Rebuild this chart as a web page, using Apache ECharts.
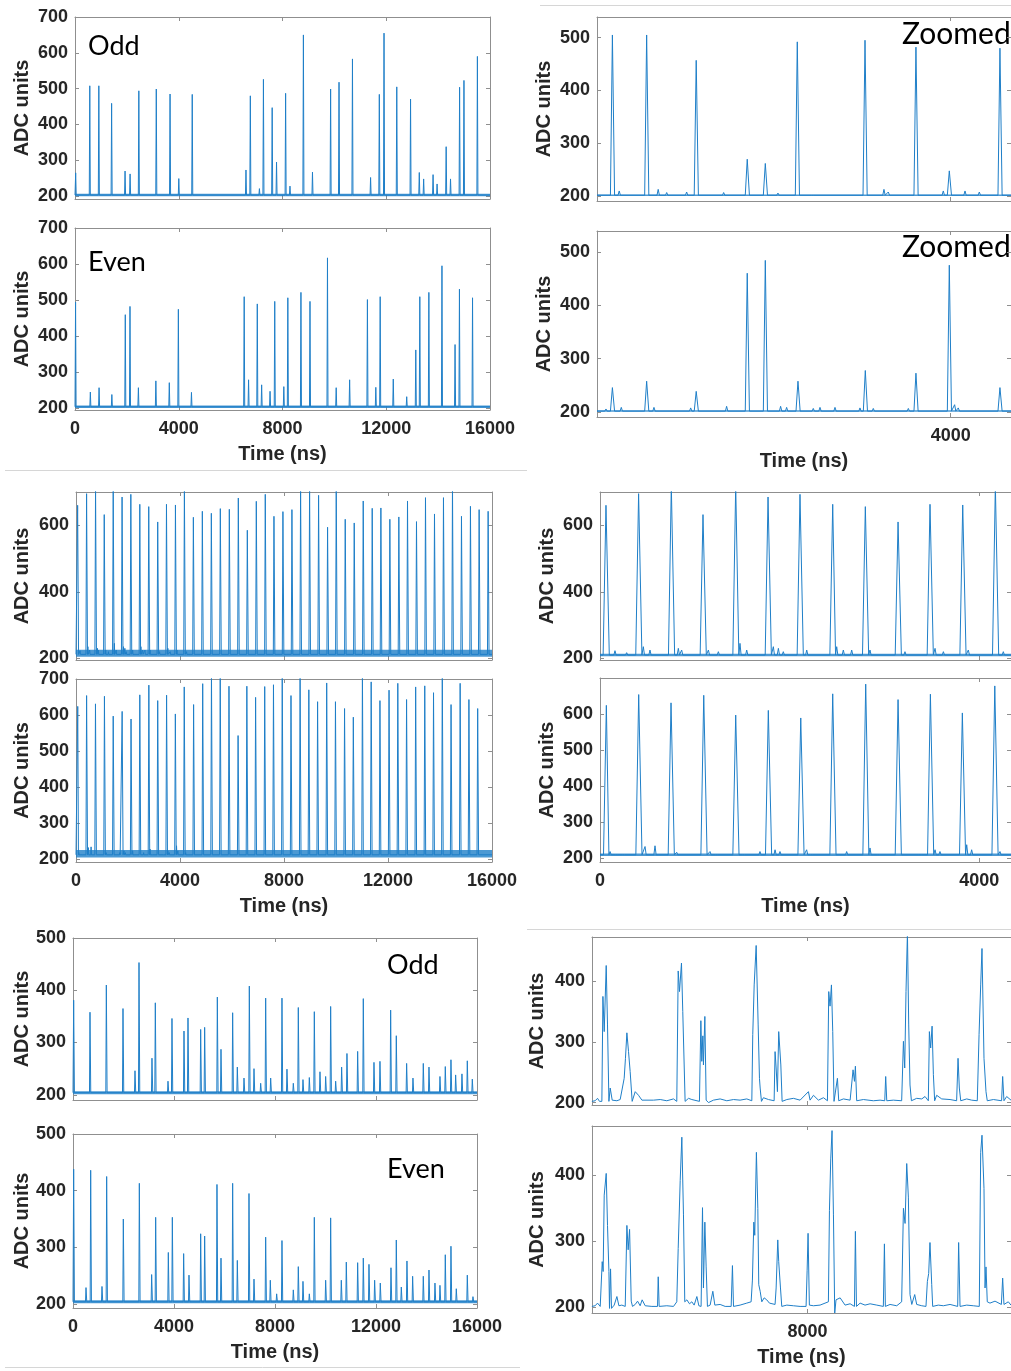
<!DOCTYPE html>
<html>
<head>
<meta charset="utf-8">
<script src="https://cdn.jsdelivr.net/npm/echarts@6/dist/echarts.min.js"></script>
<style>
html, body { margin: 0; padding: 0; background: #fff; }
#main { width: 1011px; height: 1371px; }
</style>
</head>
<body>
<div id="main"></div>
<script>
// ---------- data (time in ns, value in ADC units) ----------
// top block, full 16 us record: spike times and peak heights
var topOddT = [26,570,919,1412,1930,2124,2461,3134,3665,4002,4520,6592,6760,7110,7265,7602,7770,8120,8288,8806,9156,9855,10179,10697,11396,11733,11914,12406,12937,13274,13442,13805,13960,14310,14478,14828,14996,15514];
var topOddV = [265,508,508,459,270,262,494,499,485,249,484,273,480,221,526,447,295,487,228,650,267,499,518,583,252,484,655,505,471,266,248,260,234,338,248,504,523,590];
var topEvenT = [22,592,928,1421,1939,2120,2444,3118,3636,3985,4490,6523,6692,7028,7196,7520,7701,8051,8206,8711,9060,9734,10070,10588,11274,11598,11766,12271,12789,13139,13294,13643,14148,14653,14822,15327];
var topEvenV = [494,244,256,237,459,482,256,275,270,474,243,509,278,489,264,246,496,259,506,521,496,617,256,278,501,257,509,280,231,361,509,521,595,376,530,506];

// top block, zoomed
var tzOddT = [573,920,1422,1939,2122,2446,3132,3648,3986,4499];
var tzOddV = [505,505,457,270,262,492,495,482,248,480];
var tzOddBumpT = [642,1037,1123,1325,1700,2250,2600,3324,3368,3925,4145,4290];
var tzOddBumpV = [210,213,207,208,207,206,205,213,208,210,210,208];
var tzEvenT = [573,920,1422,1939,2122,2453,3135,3648,3986,4499];
var tzEvenV = [246,258,239,460,484,258,278,273,475,246];
var tzEvenBumpT = [508,663,994,1366,1730,2277,2338,2608,2676,2828,3081,3216,3571,4040,4077];
var tzEvenBumpV = [206,209,209,208,211,211,209,207,209,209,208,207,207,214,208];

// middle block (periodic pulses)
var midOddT = [63,407,752,1086,1431,1772,2109,2454,2798,3143,3480,3825,4169,4514,4859,5205,5551,5897,6243,6589,6935,7280,7614,7959,8305,8638,8984,9330,9676,10009,10355,10701,11047,11393,11726,12071,12417,12750,13096,13442,13788,14134,14480,14826,15171,15505,15851];
var midOddV = [660,695,720,632,720,685,693,663,656,610,663,661,720,624,642,636,650,648,682,585,672,693,627,641,647,720,720,690,594,720,618,607,673,651,652,618,625,673,611,683,634,683,720,627,657,647,642];
var midOddBumpT = [158,281,457,527,826,861,1143,1248,1476,1547,1828,1881,1933,2180,2496,2566,2654,2847,3216,3533,3621,3884,4253];
var midOddBumpV = [223,217,235,225,230,225,225,220,245,225,235,230,220,225,235,225,225,225,220,230,220,225,220];
var midEvenT = [67,408,749,1094,1431,1775,2117,2454,2802,3143,3484,3821,4163,4523,4873,5210,5547,5884,6234,6571,6908,7258,7595,7932,8269,8619,8955,9292,9642,9979,10329,10666,11016,11353,11690,12040,12377,12714,13064,13414,13751,14088,14425,14775,15112,15449];
var midEvenV = [624,654,631,652,597,610,589,656,683,640,655,603,678,629,687,720,720,680,543,680,649,679,684,720,654,720,670,637,689,637,618,594,720,692,640,669,688,643,678,681,662,720,629,688,643,618];
var midEvenBumpT = [106,176,246,475,580,809,1160,1230,1512,1687,1846,1898,2179,2232,2601,2847,2935,3375,3533,3585,3867,3919,4218];
var midEvenBumpV = [218,214,212,232,234,216,218,214,214,218,223,218,223,214,218,228,214,214,223,218,237,223,218];

// bottom block, full record
var botOddT = [26,673,1320,1980,2455,2614,3128,3260,3762,3920,4396,4554,5056,5214,5716,5861,6323,6508,6772,6983,7168,7432,7630,7828,8276,8474,8725,8923,9108,9359,9557,9781,10006,10204,10402,10639,10850,11273,11497,11920,12157,12580,12804,13213,13464,13873,14098,14533,14744,14969,15154,15404,15616,15814];
var botOddV = [381,358,410,365,246,453,270,376,226,346,322,347,325,329,387,287,357,253,232,408,250,222,385,232,385,249,222,367,229,233,359,244,235,369,226,253,279,283,384,262,264,362,313,260,232,260,253,235,254,267,238,240,265,230];
var botEvenT = [26,515,700,1148,1333,1993,2627,3115,3274,3775,3934,4382,4594,5056,5214,5702,5861,6323,6508,6970,7168,7630,7814,8065,8276,8725,8923,9108,9359,9557,10006,10204,10626,10824,11273,11497,11722,11946,12170,12593,12804,13002,13226,13451,13873,14098,14335,14533,14744,14969,15180,15616,15840];
var botEvenV = [438,229,436,231,425,350,413,252,353,291,353,289,251,324,320,411,281,413,277,395,244,318,242,218,312,225,266,240,218,353,242,352,242,274,273,281,270,242,237,264,313,230,276,249,249,260,237,233,287,302,227,251,213];

// bottom block, zoomed traces [time, value]
var bzOdd = [[6164,202],[6192,203],[6212,207],[6229,202],[6249,202],[6258,375],[6269,317],[6286,426],[6297,328],[6309,202],[6320,224],[6337,204],[6377,203],[6405,205],[6439,240],[6450,273],[6462,315],[6476,284],[6490,251],[6507,202],[6533,218],[6561,212],[6590,204],[6689,204],[6746,205],[6802,203],[6859,206],[6887,202],[6899,417],[6910,383],[6927,430],[6938,350],[6958,202],[6987,207],[7015,205],[7080,202],[7092,335],[7100,268],[7109,310],[7114,262],[7126,342],[7137,204],[7157,200],[7199,204],[7256,206],[7313,203],[7370,205],[7426,204],[7483,206],[7526,203],[7534,312],[7546,394],[7563,459],[7580,328],[7591,240],[7597,224],[7608,202],[7625,208],[7668,205],[7716,203],[7724,284],[7733,257],[7744,218],[7755,317],[7761,315],[7773,262],[7784,202],[7824,205],[7880,207],[7937,204],[8008,218],[8022,204],[8051,212],[8093,204],[8136,208],[8170,203],[8181,383],[8192,359],[8204,394],[8215,317],[8226,202],[8255,240],[8266,203],[8306,206],[8363,204],[8380,203],[8388,254],[8400,235],[8408,260],[8419,203],[8476,205],[8561,203],[8618,204],[8658,203],[8666,243],[8675,203],[8731,204],[8802,203],[8817,301],[8828,257],[8839,383],[8851,480],[8862,328],[8873,229],[8885,203],[8930,207],[8973,206],[9001,210],[9029,203],[9038,317],[9049,290],[9061,326],[9072,246],[9083,203],[9100,212],[9143,206],[9214,205],[9270,203],[9282,273],[9293,224],[9305,203],[9356,206],[9398,204],[9446,203],[9461,312],[9475,394],[9486,454],[9503,273],[9520,218],[9531,203],[9583,205],[9653,203],[9662,243],[9673,203],[9696,210],[9733,204]];
var bzEven = [[6164,201],[6192,202],[6212,206],[6235,201],[6243,201],[6252,269],[6260,254],[6269,370],[6286,403],[6297,324],[6309,254],[6314,198],[6323,258],[6331,198],[6354,203],[6377,216],[6394,202],[6419,203],[6448,201],[6462,324],[6473,287],[6485,318],[6499,209],[6510,201],[6533,204],[6553,209],[6575,202],[6592,211],[6618,202],[6675,201],[6723,201],[6729,246],[6737,201],[6802,202],[6859,201],[6887,208],[6899,289],[6916,392],[6930,458],[6944,340],[6955,208],[6973,211],[6995,205],[7015,208],[7035,203],[7058,216],[7075,202],[7094,201],[7106,351],[7114,229],[7126,329],[7137,261],[7148,201],[7171,203],[7194,224],[7211,203],[7256,204],[7299,201],[7350,201],[7361,263],[7370,201],[7426,203],[7483,206],[7520,208],[7531,241],[7543,329],[7551,309],[7565,435],[7577,350],[7585,234],[7597,224],[7611,208],[7631,214],[7653,211],[7676,206],[7724,204],[7733,229],[7747,302],[7755,269],[7770,229],[7781,201],[7824,203],[7880,202],[7937,201],[7988,201],[7997,256],[8005,312],[8016,203],[8051,202],[8107,203],[8178,208],[8187,347],[8198,425],[8209,468],[8221,340],[8232,191],[8243,211],[8278,214],[8320,203],[8363,205],[8400,201],[8408,315],[8417,201],[8448,206],[8490,203],[8533,205],[8590,203],[8646,201],[8655,296],[8663,201],[8703,204],[8760,202],[8802,208],[8817,350],[8831,327],[8845,418],[8859,367],[8873,219],[8888,204],[8913,219],[8930,204],[8973,202],[9009,201],[9021,239],[9032,251],[9043,298],[9058,234],[9066,201],[9114,203],[9157,202],[9214,204],[9279,201],[9287,298],[9299,201],[9356,203],[9412,202],[9463,201],[9475,435],[9486,461],[9503,380],[9512,229],[9520,261],[9531,208],[9554,206],[9597,209],[9651,204],[9662,244],[9673,204],[9710,208],[9733,203]];

// tick values
var fullTicks = [0, 4000, 8000, 12000, 16000];
var yTicks700 = [200, 300, 400, 500, 600, 700];

// ---------- helpers ----------
var blue = '#1f7fc8';
var boxColor = '#8f8f8f';
var txt = '#262626';
var numFont = 'Liberation Sans';

// join spikes + small bumps into one polyline sitting on a flat baseline
function spikeTrace(t, v, bt, bv, base, rise, fall, x0, x1) {
  var ev = [];
  t.forEach(function (x, i) { ev.push([x, v[i], rise, fall]); });
  (bt || []).forEach(function (x, i) { ev.push([x, bv[i], 12, 12]); });
  ev.sort(function (a, b) { return a[0] - b[0]; });
  var pts = [[x0, base]];
  ev.forEach(function (e) {
    pts.push([e[0] - e[2], base], [e[0], e[1]], [e[0] + e[3], base]);
  });
  pts.push([x1, base]);
  pts.sort(function (a, b) { return a[0] - b[0]; });
  return pts;
}

var panels = [
  { l: 75, t: 17, w: 415, h: 182, xr: [0, 16000], yr: [192, 700], xt: fullTicks, yt: yTicks700, xl: false, ng: 43,
    data: spikeTrace(topOddT, topOddV, null, null, 203, 20, 20, 0, 16000), band: 203, bw: 2.5 },
  { l: 75, t: 228, w: 415, h: 182, xr: [0, 16000], yr: [194, 700], xt: fullTicks, yt: yTicks700, xl: true, ng: 43,
    data: spikeTrace(topEvenT, topEvenV, null, null, 203, 20, 20, 0, 16000), band: 203, bw: 2.5 },
  { l: 597, t: 17, r: 0, h: 184, xr: [417, 4611], yr: [191, 539], xt: [4000], yt: [200, 300, 400, 500], xl: false, ng: 43,
    data: spikeTrace(tzOddT, tzOddV, tzOddBumpT, tzOddBumpV, 202, 20, 22, 417, 4611), band: 202, bw: 1.5 },
  { l: 597, t: 231, r: 0, h: 186, xr: [417, 4611], yr: [191, 539], xt: [4000], yt: [200, 300, 400, 500], xl: true, ng: 43,
    data: spikeTrace(tzEvenT, tzEvenV, tzEvenBumpT, tzEvenBumpV, 202, 20, 22, 417, 4611), band: 202, bw: 1.5 },
  { l: 76, t: 492, w: 416, h: 168, xr: [0, 16000], yr: [195, 700], xt: fullTicks, yt: [200, 400, 600], xl: false, ng: 44,
    data: spikeTrace(midOddT, midOddV, midOddBumpT, midOddBumpV, 212, 25, 35, 0, 16000), band: 215, bw: 7 },
  { l: 76, t: 679, w: 416, h: 183, xr: [0, 16000], yr: [192, 700], xt: fullTicks, yt: yTicks700, xl: true, ng: 44,
    data: spikeTrace(midEvenT, midEvenV, midEvenBumpT, midEvenBumpV, 212, 25, 35, 0, 16000), band: 215, bw: 7.5 },
  { l: 600, t: 492, r: 0, h: 168, xr: [0, 4334], yr: [195, 700], xt: [0, 4000], yt: [200, 400, 600], xl: false, ng: 43,
    data: spikeTrace(midOddT, midOddV, midOddBumpT, midOddBumpV, 210, 30, 35, 0, 16000), band: 210, bw: 2.5 },
  { l: 600, t: 678, r: 0, h: 184, xr: [0, 4334], yr: [189, 700], xt: [0, 4000], yt: [200, 300, 400, 500, 600], xl: true, ng: 43,
    data: spikeTrace(midEvenT, midEvenV, midEvenBumpT, midEvenBumpV, 209, 30, 35, 0, 16000), band: 209, bw: 2.5 },
  { l: 73, t: 938, w: 404, h: 162, xr: [0, 16000], yr: [190, 500], xt: fullTicks, yt: [200, 300, 400, 500], xl: false, ng: 40,
    data: spikeTrace(botOddT, botOddV, null, null, 204, 20, 30, 0, 16000), band: 204, bw: 3 },
  { l: 73, t: 1134, w: 404, h: 174, xr: [0, 16000], yr: [193, 500], xt: fullTicks, yt: [200, 300, 400, 500], xl: true, ng: 40,
    data: spikeTrace(botEvenT, botEvenV, null, null, 204, 20, 30, 0, 16000), band: 204, bw: 3 },
  { l: 592, t: 937, r: 0, h: 168, xr: [6165, 9733], yr: [196, 473], xt: [8000], yt: [200, 300, 400], xl: false, ng: 45,
    data: bzOdd, band: null },
  { l: 592, t: 1126, r: 0, h: 187, xr: [6165, 9733], yr: [191, 475], xt: [8000], yt: [200, 300, 400], xl: true, ng: 45,
    data: bzEven, band: null }
];

var numStyle = { fontFamily: numFont, fontWeight: 'bold', fontSize: 18, color: txt };
var nameStyle = { fontFamily: numFont, fontWeight: 'bold', fontSize: 20, color: txt };
var plain = function (v) { return String(v); };

var grids = [], xAxes = [], yAxes = [], series = [];
panels.forEach(function (p, i) {
  var g = { left: p.l, top: p.t, height: p.h };
  if (p.w != null) g.width = p.w; else g.right = p.r;
  grids.push(g);
  var tick = { show: true, inside: true, length: 4, lineStyle: { color: boxColor } };
  xAxes.push({
    gridIndex: i, type: 'value', min: p.xr[0], max: p.xr[1], position: 'bottom',
    axisLine: { show: true, onZero: false, lineStyle: { color: boxColor, width: 1 } },
    axisTick: Object.assign({ customValues: p.xt }, tick),
    axisLabel: Object.assign({ show: p.xl, customValues: p.xt, margin: 10, formatter: plain }, numStyle),
    splitLine: { show: false },
    name: p.xl ? 'Time (ns)' : '', nameLocation: 'middle', nameGap: 34, nameTextStyle: nameStyle
  });
  xAxes.push({
    gridIndex: i, type: 'value', min: p.xr[0], max: p.xr[1], position: 'top',
    axisLine: { show: true, onZero: false, lineStyle: { color: boxColor, width: 1 } },
    axisTick: Object.assign({ customValues: p.xt }, tick),
    axisLabel: { show: false }, splitLine: { show: false }
  });
  yAxes.push({
    gridIndex: i, type: 'value', min: p.yr[0], max: p.yr[1], position: 'left',
    axisLine: { show: true, onZero: false, lineStyle: { color: boxColor, width: 1 } },
    axisTick: Object.assign({ customValues: p.yt }, tick),
    axisLabel: Object.assign({ customValues: p.yt, margin: 7, formatter: plain }, numStyle),
    splitLine: { show: false },
    name: 'ADC units', nameLocation: 'middle', nameGap: p.ng, nameTextStyle: nameStyle
  });
  yAxes.push({
    gridIndex: i, type: 'value', min: p.yr[0], max: p.yr[1], position: 'right',
    axisLine: { show: true, onZero: false, lineStyle: { color: boxColor, width: 1 } },
    axisTick: Object.assign({ customValues: p.yt }, tick),
    axisLabel: { show: false }, splitLine: { show: false }
  });
  if (p.band != null) {
    series.push({
      type: 'line', xAxisIndex: 2 * i, yAxisIndex: 2 * i, symbol: 'none', silent: true,
      data: [[p.xr[0], p.band], [p.xr[1], p.band]],
      lineStyle: { color: blue, width: p.bw, opacity: 0.8 }, z: 1
    });
  }
  series.push({
    type: 'line', xAxisIndex: 2 * i, yAxisIndex: 2 * i, symbol: 'none', silent: true,
    data: p.data, lineStyle: { color: blue, width: 1 }, z: 2, clip: true
  });
});

function label(text, x, y, size) {
  return { type: 'text', x: x, y: y, silent: true,
    style: { text: text, font: (size || 27) + 'px Lato', fill: '#000', verticalAlign: 'middle' } };
}
function rule(x1, y1, x2) {
  return { type: 'line', silent: true, shape: { x1: x1, y1: y1, x2: x2, y2: y1 },
    style: { stroke: '#d6d6d6', lineWidth: 1 } };
}

var myChart = echarts.init(document.getElementById('main'));
var option = {
  animation: false,
  grid: grids,
  xAxis: xAxes,
  yAxis: yAxes,
  series: series,
  graphic: [
    label('Odd', 88, 46), label('Even', 88, 262),
    label('Zoomed', 902, 34, 30), label('Zoomed', 902, 247, 30),
    label('Odd', 387, 965), label('Even', 387, 1169),
    rule(540, 5.5, 1011), rule(5, 470.5, 527), rule(527, 929.5, 1011), rule(5, 1367.5, 520)
  ]
};
option && myChart.setOption(option);
</script>
</body>
</html>
